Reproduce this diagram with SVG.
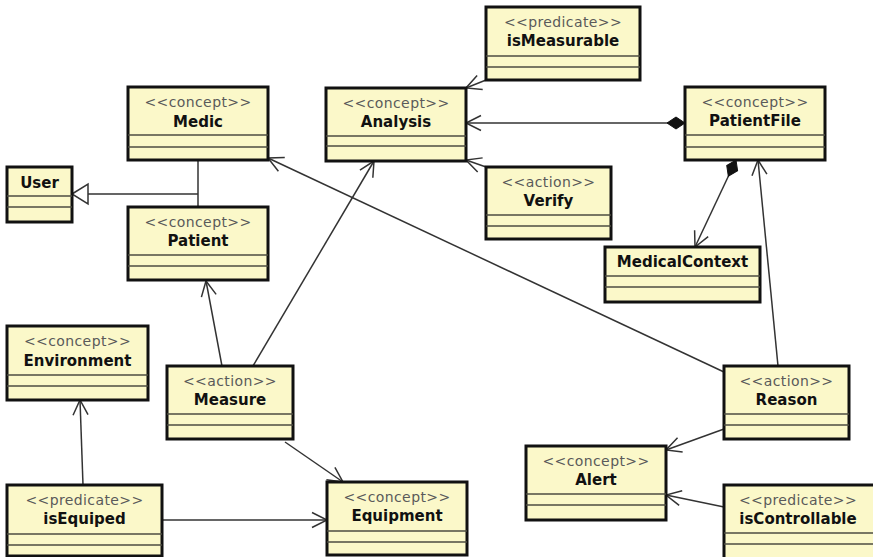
<svg xmlns="http://www.w3.org/2000/svg" width="873" height="557" viewBox="0 0 873 557">
  <style>
    .box { fill: #fbf8c9; stroke: #111; stroke-width: 3; }
    .sep { stroke: #4d4d40; stroke-width: 1.5; }
    .st { font-family: "DejaVu Sans", sans-serif; font-size: 14px; letter-spacing: 0.4px; fill: #5a5a5a; text-anchor: middle; }
    .nm { font-family: "DejaVu Sans", sans-serif; font-size: 15px; font-weight: bold; fill: #111; text-anchor: middle; }
    .ln { stroke: #333; stroke-width: 1.5; fill: none; }
  </style>
  <defs>
    <marker id="open" markerUnits="userSpaceOnUse" markerWidth="20" markerHeight="20" refX="16" refY="8" orient="auto" overflow="visible">
      <path d="M1 0.5 L16 8 L1 15.5" fill="none" stroke="#333" stroke-width="1.5"/>
    </marker>
    <marker id="diamond" markerUnits="userSpaceOnUse" markerWidth="22" markerHeight="14" refX="0" refY="7" orient="auto" overflow="visible">
      <path d="M0 7 L9 1 L18 7 L9 13 Z" fill="#111" stroke="#111" stroke-width="1"/>
    </marker>
  </defs>
  <rect width="873" height="557" fill="#fff"/>

  <!-- connectors -->
  <g id="connectors">
    <!-- generalization Medic/Patient -> User -->
    <path class="ln" d="M198 160 L198 207 M198 194 L88 194"/>
    <polygon points="72,194 88,184 88,204" fill="#fff" stroke="#333" stroke-width="1.5"/>
    <line class="ln" x1="724" y1="372" x2="268" y2="158" marker-end="url(#open)"/>
    <line class="ln" x1="222" y1="366" x2="206" y2="281" marker-end="url(#open)"/>
    <line class="ln" x1="253" y1="366" x2="374" y2="161" marker-end="url(#open)"/>
    <line class="ln" x1="285" y1="442" x2="343" y2="482" marker-end="url(#open)"/>
    <line class="ln" x1="83" y1="485" x2="80" y2="400" marker-end="url(#open)"/>
    <line class="ln" x1="162" y1="520" x2="327" y2="520" marker-end="url(#open)"/>
    <line class="ln" x1="486" y1="80" x2="466" y2="88" marker-end="url(#open)"/>
    <line class="ln" x1="685" y1="123" x2="466" y2="123" marker-start="url(#diamond)" marker-end="url(#open)"/>
    <line class="ln" x1="486" y1="167" x2="466" y2="160" marker-end="url(#open)"/>
    <line class="ln" x1="736" y1="160" x2="695" y2="247" marker-start="url(#diamond)" marker-end="url(#open)"/>
    <line class="ln" x1="778" y1="366" x2="758" y2="160" marker-end="url(#open)"/>
    <line class="ln" x1="724" y1="429" x2="666" y2="450" marker-end="url(#open)"/>
    <line class="ln" x1="724" y1="507" x2="666" y2="495" marker-end="url(#open)"/>
  </g>

  <!-- nodes -->
  <g id="isMeasurable">
    <rect class="box" x="486" y="7" width="154" height="73"/>
    <line class="sep" x1="486" y1="56" x2="640" y2="56"/>
    <line class="sep" x1="486" y1="67" x2="640" y2="67"/>
    <text class="st" x="563" y="27">&lt;&lt;predicate&gt;&gt;</text>
    <text class="nm" x="563" y="46">isMeasurable</text>
  </g>
  <g id="Medic">
    <rect class="box" x="128" y="87" width="140" height="73"/>
    <line class="sep" x1="128" y1="135" x2="268" y2="135"/>
    <line class="sep" x1="128" y1="147" x2="268" y2="147"/>
    <text class="st" x="198" y="107">&lt;&lt;concept&gt;&gt;</text>
    <text class="nm" x="198" y="127">Medic</text>
  </g>
  <g id="Analysis">
    <rect class="box" x="326" y="88" width="140" height="73"/>
    <line class="sep" x1="326" y1="136" x2="466" y2="136"/>
    <line class="sep" x1="326" y1="146" x2="466" y2="146"/>
    <text class="st" x="396" y="108">&lt;&lt;concept&gt;&gt;</text>
    <text class="nm" x="396" y="127">Analysis</text>
  </g>
  <g id="PatientFile">
    <rect class="box" x="685" y="87" width="140" height="73"/>
    <line class="sep" x1="685" y1="135" x2="825" y2="135"/>
    <line class="sep" x1="685" y1="147" x2="825" y2="147"/>
    <text class="st" x="755" y="107">&lt;&lt;concept&gt;&gt;</text>
    <text class="nm" x="755" y="126">PatientFile</text>
  </g>
  <g id="User">
    <rect class="box" x="7" y="167" width="65" height="55"/>
    <line class="sep" x1="7" y1="196" x2="72" y2="196"/>
    <line class="sep" x1="7" y1="207" x2="72" y2="207"/>
    <text class="nm" x="39.5" y="188">User</text>
  </g>
  <g id="Verify">
    <rect class="box" x="486" y="167" width="125" height="72"/>
    <line class="sep" x1="486" y1="215" x2="611" y2="215"/>
    <line class="sep" x1="486" y1="226" x2="611" y2="226"/>
    <text class="st" x="548.5" y="187">&lt;&lt;action&gt;&gt;</text>
    <text class="nm" x="548.5" y="206">Verify</text>
  </g>
  <g id="Patient">
    <rect class="box" x="128" y="207" width="140" height="73"/>
    <line class="sep" x1="128" y1="255" x2="268" y2="255"/>
    <line class="sep" x1="128" y1="266" x2="268" y2="266"/>
    <text class="st" x="198" y="227">&lt;&lt;concept&gt;&gt;</text>
    <text class="nm" x="198" y="246">Patient</text>
  </g>
  <g id="MedicalContext">
    <rect class="box" x="605" y="247" width="155" height="55"/>
    <line class="sep" x1="605" y1="276" x2="760" y2="276"/>
    <line class="sep" x1="605" y1="287" x2="760" y2="287"/>
    <text class="nm" x="682.5" y="267">MedicalContext</text>
  </g>
  <g id="Environment">
    <rect class="box" x="7" y="326" width="141" height="74"/>
    <line class="sep" x1="7" y1="375" x2="148" y2="375"/>
    <line class="sep" x1="7" y1="386" x2="148" y2="386"/>
    <text class="st" x="77.5" y="346">&lt;&lt;concept&gt;&gt;</text>
    <text class="nm" x="77.5" y="366">Environment</text>
  </g>
  <g id="Measure">
    <rect class="box" x="167" y="366" width="126" height="73"/>
    <line class="sep" x1="167" y1="414" x2="293" y2="414"/>
    <line class="sep" x1="167" y1="425" x2="293" y2="425"/>
    <text class="st" x="230" y="386">&lt;&lt;action&gt;&gt;</text>
    <text class="nm" x="230" y="405">Measure</text>
  </g>
  <g id="Reason">
    <rect class="box" x="724" y="366" width="125" height="73"/>
    <line class="sep" x1="724" y1="414" x2="849" y2="414"/>
    <line class="sep" x1="724" y1="425" x2="849" y2="425"/>
    <text class="st" x="786.5" y="386">&lt;&lt;action&gt;&gt;</text>
    <text class="nm" x="786.5" y="405">Reason</text>
  </g>
  <g id="Alert">
    <rect class="box" x="526" y="446" width="140" height="74"/>
    <line class="sep" x1="526" y1="494" x2="666" y2="494"/>
    <line class="sep" x1="526" y1="505" x2="666" y2="505"/>
    <text class="st" x="596" y="466">&lt;&lt;concept&gt;&gt;</text>
    <text class="nm" x="596" y="485">Alert</text>
  </g>
  <g id="isEquiped">
    <rect class="box" x="7" y="485" width="155" height="71"/>
    <line class="sep" x1="7" y1="534" x2="162" y2="534"/>
    <line class="sep" x1="7" y1="545" x2="162" y2="545"/>
    <text class="st" x="84.5" y="505">&lt;&lt;predicate&gt;&gt;</text>
    <text class="nm" x="84.5" y="524">isEquiped</text>
  </g>
  <g id="Equipment">
    <rect class="box" x="327" y="482" width="140" height="73"/>
    <line class="sep" x1="327" y1="531" x2="467" y2="531"/>
    <line class="sep" x1="327" y1="542" x2="467" y2="542"/>
    <text class="st" x="397" y="502">&lt;&lt;concept&gt;&gt;</text>
    <text class="nm" x="397" y="521">Equipment</text>
  </g>
  <g id="isControllable">
    <rect class="box" x="724" y="485" width="160" height="80"/>
    <line class="sep" x1="724" y1="533" x2="873" y2="533"/>
    <line class="sep" x1="724" y1="544" x2="873" y2="544"/>
    <text class="st" x="798" y="505">&lt;&lt;predicate&gt;&gt;</text>
    <text class="nm" x="798" y="524">isControllable</text>
  </g>
</svg>
